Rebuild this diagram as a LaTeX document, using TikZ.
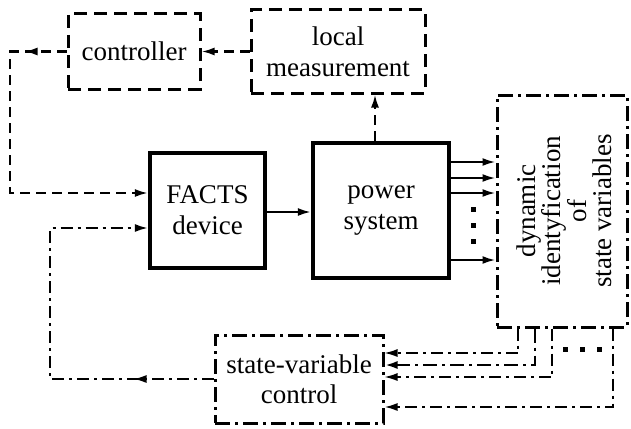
\documentclass[tikz,border=0pt]{standalone}
\usepackage{fontspec}
\setmainfont{Liberation Serif}
\usetikzlibrary{arrows.meta,decorations.markings}
\tikzset{
  txt/.style={font=\fontsize{27}{31}\selectfont, align=center, inner sep=0pt},
  dashbox/.style={draw, line width=3pt, dash pattern=on 13pt off 7pt, rectangle, inner sep=0pt, txt},
  dashdotbox/.style={draw, line width=3pt, dash pattern=on 15pt off 5pt on 3pt off 5pt, rectangle, inner sep=0pt, txt},
  solidbox/.style={draw, line width=4.2pt, rectangle, inner sep=0pt, txt},
  tip/.style={-{Latex[length=13pt,width=8pt]}},
  dashline/.style={line width=2.2pt, dash pattern=on 10pt off 6pt},
  ddline/.style={line width=2pt, dash pattern=on 12pt off 5pt on 3pt off 5pt},
  ddthin/.style={line width=1.5pt, dash pattern=on 12pt off 5pt on 3pt off 5pt},
  ddthick/.style={line width=2.6pt, dash pattern=on 14pt off 5pt on 3pt off 5pt},
  solidline/.style={line width=2.2pt},
  midtip/.style={postaction={decorate}, decoration={markings, mark=at position #1 with {\arrow{Latex[length=13pt,width=8pt]}}}},
  dotsq/.style={fill=black, rectangle, minimum size=5pt, inner sep=0pt},
}
\begin{document}
\begin{tikzpicture}[x=1pt,y=-1pt]
\useasboundingbox (0,0) rectangle (631,428);

% boxes
\node[dashbox, minimum width=132pt, minimum height=75pt] (ctrl) at (134,51.5) {controller};
\node[dashbox, minimum width=174pt, minimum height=83pt] (meas) at (338,51.5) {local\\measurement};
\node[solidbox, minimum width=115pt, minimum height=115pt] (facts) at (207.5,210.5) {FACTS\\device};
\node[solidbox, minimum width=136pt, minimum height=135pt] (power) at (381,210.5) {power\\system};
\node[dashdotbox, minimum width=130pt, minimum height=232pt] (dyn) at (562,211) {};
\node[txt, rotate=90, font=\fontsize{27}{24.5}\selectfont] (dyntxt) at (564,211) {dynamic\\identyfication\\of\\state variables};
\node[dashdotbox, minimum width=168pt, minimum height=88pt, font=\fontsize{27}{30}\selectfont] (svc) at (299,379) {state-variable\\control};

% helper coordinates
\coordinate (c1) at (10,193);
\coordinate (c2) at (50,228);
\coordinate (m1) at (375,0);
\coordinate (f1) at (0,212);
\coordinate (p1) at (0,162);
\coordinate (p2) at (0,178);
\coordinate (p3) at (0,193);
\coordinate (p4) at (0,260);
\coordinate (b1) at (518,353);
\coordinate (b2) at (535,365);
\coordinate (b3) at (552,377);
\coordinate (b4) at (613,407);

% top dashed loop
\draw[dashline, tip] (meas.west |- ctrl.east) -- (ctrl.east);
\draw[dashline, tip, midtip=42pt] (ctrl.west) -| (c1) -- (facts.west |- c1);
\draw[dashline, tip] (power.north -| m1) -- (meas.south -| m1);

% FACTS to power
\draw[solidline, tip] (facts.east |- f1) -- (power.west |- f1);

% power to dyn
\draw[solidline, tip] (power.east |- p1) -- (dyn.west |- p1);
\draw[solidline, tip] (power.east |- p2) -- (dyn.west |- p2);
\draw[solidline, tip] (power.east |- p3) -- (dyn.west |- p3);
\draw[solidline, tip] (power.east |- p4) -- (dyn.west |- p4);
\node[dotsq] (d1) at (473,209) {};
\node[dotsq] (d2) at (473,225) {};
\node[dotsq] (d3) at (473,241) {};

% svc to FACTS
\draw[ddline, tip, midtip=80pt] (svc.west) -| (c2) -- (facts.west |- c2);

% dyn to svc
\draw[ddthin, tip] (dyn.south -| b1) |- (svc.east |- b1);
\draw[ddthick, tip] (dyn.south -| b2) |- (svc.east |- b2);
\draw[ddthin, tip] (dyn.south -| b3) |- (svc.east |- b3);
\draw[ddline, tip] (dyn.south -| b4) |- (svc.east |- b4);
\node[dotsq] (e1) at (565,349) {};
\node[dotsq] (e2) at (582,349) {};
\node[dotsq] (e3) at (599,349) {};
\end{tikzpicture}
\end{document}
